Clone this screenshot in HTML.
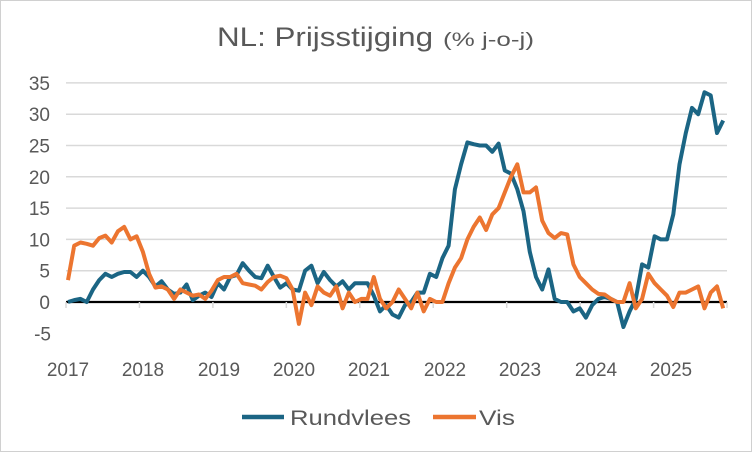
<!DOCTYPE html>
<html><head><meta charset="utf-8"><style>
body{margin:0;background:#fff}
svg{display:block;font-family:"Liberation Sans",sans-serif}
</style></head><body>
<svg width="752" height="452" viewBox="0 0 752 452" xmlns="http://www.w3.org/2000/svg">
<rect x="0.5" y="0.5" width="751" height="451" fill="#fff" stroke="#d0d0d0"/>
<text x="217" y="46" font-size="27" fill="#595959" textLength="216" lengthAdjust="spacingAndGlyphs">NL: Prijsstijging</text>
<text x="443" y="46" font-size="19" fill="#595959" textLength="91" lengthAdjust="spacingAndGlyphs">(% j-o-j)</text>
<g id="grid" stroke="#d9d9d9" stroke-width="1.5"></g>
<g id="ylab" font-size="19" fill="#595959" text-anchor="end"></g>
<g id="xlab" font-size="19" fill="#595959" text-anchor="middle"></g>
<line x1="66" y1="302" x2="727" y2="302" stroke="#000" stroke-width="2.2"/>
<g id="ticks" stroke="#d9d9d9" stroke-width="1.5"></g>
<polyline id="b" fill="none" stroke="#1b6584" stroke-width="4" stroke-linejoin="round"/>
<polyline id="o" fill="none" stroke="#ec7530" stroke-width="4" stroke-linejoin="round"/>
<line x1="242" y1="417" x2="284" y2="417" stroke="#1b6584" stroke-width="4.5"/>
<text x="290" y="425" font-size="21" fill="#595959" textLength="121" lengthAdjust="spacingAndGlyphs">Rundvlees</text>
<line x1="433" y1="417" x2="476" y2="417" stroke="#ec7530" stroke-width="4.5"/>
<text x="479" y="425" font-size="21" fill="#595959" textLength="36" lengthAdjust="spacingAndGlyphs">Vis</text>
</svg>
<script>
var NS="http://www.w3.org/2000/svg";
function y(v){return 302-6.26*v;}
var g=document.getElementById("grid"),yl=document.getElementById("ylab");
for(var v=-5;v<=35;v+=5){
 if(v!=0&&v!=-5){var l=document.createElementNS(NS,"line");l.setAttribute("x1",66);l.setAttribute("x2",727);l.setAttribute("y1",y(v));l.setAttribute("y2",y(v));g.appendChild(l);}
 var t=document.createElementNS(NS,"text");t.setAttribute("x",v<0?51:50);t.setAttribute("y",y(v)+7);t.textContent=v<0?"-5":v;yl.appendChild(t);}
var tk=document.getElementById("ticks");
for(var i=0;i<10;i++){var x=66+i*73.45;var l=document.createElementNS(NS,"line");l.setAttribute("x1",x);l.setAttribute("x2",x);l.setAttribute("y1",302);l.setAttribute("y2",308);tk.appendChild(l);}
var xl=document.getElementById("xlab");var xs=[68,143,219,294,369,445,520,596,671];
for(var i=0;i<9;i++){var t=document.createElementNS(NS,"text");t.setAttribute("x",xs[i]);t.setAttribute("y",376);t.textContent=2017+i;xl.appendChild(t);}
var B=[0,0.3,0.5,0,2,3.5,4.5,4,4.5,4.8,4.8,4,
5,4,2.5,3.3,2,1.3,1.5,2.8,0.3,1,1.5,0.8,
3,2,4,4.3,6.2,5,4,3.8,5.8,4,2.3,3,
2,1.8,5,5.8,3,4.8,3.5,2.5,3.3,2,3,3,
3,1,-1.5,-0.5,-2,-2.5,-0.5,0,1.5,1.5,4.5,4,
7,9,18,22,25.5,25.2,25,25,24,25.3,21,20.5,
18,14.5,8,4,2,5.2,0.5,0,0,-1.5,-1,-2.5,
-0.5,0.5,0.8,0.5,0,-4,-1.5,0.5,6,5.5,10.5,10,
10,14,22,27,31,30,33.5,33,27,29];
var O=[3.5,9,9.5,9.3,9,10.2,10.6,9.5,11.3,12,10,10.5,
8,4.5,2.3,2.5,2,0.5,2,1.5,1,1.2,0.5,1.8,
3.5,4,4,4.5,3,2.8,2.6,2,3.2,4,4.2,3.8,
2,-3.5,1.5,-0.5,2.5,1.5,1,2.5,-1,1.5,0,0.5,
0.5,4,0.5,-1,0,2,0.5,-1,1.5,-1.5,0.5,0,
0,3,5.5,7,10,12,13.5,11.5,14,15,17.5,20,
22,17.5,17.5,18.3,13,11,10.2,11,10.8,6,4,3,
2,1.3,1.2,0.5,0,0,3,-1,0.5,4.5,3,2,
1,-0.8,1.5,1.5,2,2.5,-1,1.5,2.5,-1];
function pts(a){return a.map(function(v,i){return (68+i*6.24).toFixed(1)+","+y(v).toFixed(1);}).join(" ");}
document.getElementById("b").setAttribute("points",pts(B));
document.getElementById("o").setAttribute("points",pts(O));
</script>
</body></html>
